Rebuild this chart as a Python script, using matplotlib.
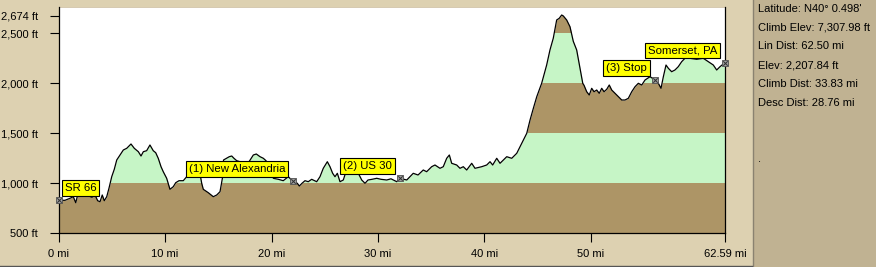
import numpy as np
import matplotlib
matplotlib.use("Agg")
import matplotlib.pyplot as plt
from matplotlib.lines import Line2D
from matplotlib.patches import Rectangle

plt.rcParams['font.family'] = ['Liberation Sans', 'DejaVu Sans']
plt.rcParams['font.size'] = 8

# elevation profile (miles, feet)
dist_mi = [0.00, 0.60, 1.07, 1.38, 1.61, 1.79, 2.20, 2.67, 3.14, 3.42, 3.67, 3.89, 4.10, 4.29,
           4.52, 4.73, 4.99, 5.23, 5.46, 5.77, 6.08, 6.40, 6.80, 7.11, 7.49, 7.74, 7.96, 8.27,
           8.58, 8.89, 9.12, 9.36, 9.62, 9.83, 10.15, 10.46, 10.77, 11.00, 11.31, 11.71, 12.03,
           12.50, 12.97, 13.19, 13.44, 13.59, 14.06, 14.53, 14.85, 15.16, 15.41, 15.49, 16.03,
           16.26, 16.47, 16.73, 17.23, 17.79, 18.29, 18.57, 18.92, 19.23, 19.48, 19.86, 20.17,
           20.64, 21.10, 21.57, 21.89, 22.04, 22.42, 22.61, 22.86, 23.14, 23.45, 23.77, 24.24,
           24.55, 24.86, 25.24, 25.49, 25.74, 25.96, 26.18, 26.43, 26.74, 26.99, 27.21, 27.56,
           27.84, 28.15, 28.47, 28.78, 29.06, 29.44, 29.88, 30.28, 30.82, 31.22, 31.76, 32.07,
           32.70, 33.00, 33.31, 33.76, 34.25, 34.57, 35.04, 35.35, 35.82, 36.13, 36.45, 36.70,
           36.92, 37.39, 37.70, 38.01, 38.33, 38.80, 39.11, 39.74, 40.21, 40.52, 40.77, 41.15,
           41.46, 41.77, 42.09, 42.56, 43.03, 43.50, 43.97, 44.28, 44.59, 44.91, 45.37, 45.84,
           46.15, 46.46, 46.78, 47.02, 47.25, 47.40, 47.72, 48.03, 48.34, 48.66, 48.97, 49.23,
           49.35, 49.60, 49.84, 50.07, 50.29, 50.54, 50.78, 51.01, 51.23, 51.48, 51.72, 51.95,
           52.26, 52.57, 52.89, 53.20, 53.51, 53.83, 54.14, 54.45, 54.77, 55.08, 55.55, 56.02,
           56.33, 56.58, 56.80, 57.05, 57.27, 57.58, 57.89, 58.20, 58.52, 58.83, 59.30, 59.93,
           60.55, 61.02, 61.49, 61.81, 62.12, 62.59]
elev_ft = [830, 830, 850, 866, 806, 883, 870, 880, 860, 883, 826, 816, 883, 826,
           866, 950, 1066, 1140, 1233, 1283, 1333, 1350, 1393, 1350, 1316, 1273, 1316, 1326,
           1383, 1326, 1306, 1250, 1166, 1116, 1050, 940, 966, 1006, 1026, 1026, 1066,
           1140, 1200, 1150, 1000, 940, 906, 866, 883, 916, 1066, 1233, 1266,
           1273, 1250, 1226, 1210, 1200, 1283, 1293, 1266, 1250, 1226, 1150, 1050,
           1040, 1026, 1066, 1033, 1023, 1000, 973, 1000, 1026, 1016, 1040, 1016,
           1066, 1150, 1216, 1166, 1100, 1066, 1100, 1016, 1033, 1116, 1200, 1190,
           1150, 1100, 1033, 1000, 1033, 1040, 1050, 1040, 1033, 1045, 1016, 1050,
           1033, 1066, 1100, 1083, 1133, 1116, 1166, 1183, 1150, 1166, 1250, 1283,
           1200, 1183, 1150, 1166, 1133, 1200, 1150, 1166, 1183, 1216, 1183, 1250,
           1200, 1233, 1266, 1250, 1300, 1400, 1500, 1633, 1750, 1866, 2000, 2183,
           2333, 2450, 2633, 2650, 2683, 2674, 2633, 2566, 2420, 2333, 2150, 2000,
           1980, 1916, 1883, 1950, 1916, 1933, 1900, 1950, 1916, 1940, 1983, 1933,
           1900, 1866, 1833, 1833, 1850, 1916, 1966, 2000, 1983, 2033, 2066, 2033,
           2000, 1950, 2066, 2183, 2150, 2116, 2133, 2166, 2216, 2250, 2250, 2240,
           2250, 2216, 2183, 2133, 2166, 2208]

# waypoints
wp_names = ['SR 66', '(1) New Alexandria', '(2) US 30', '(3) Stop', 'Somerset, PA']
wp_mi = [0.00, 22.04, 32.07, 56.02, 62.59]
wp_ft = [830, 1023, 1050, 2033, 2208]

y_ticks = [500, 1000, 1500, 2000, 2500, 2674]
x_ticks = [0, 10, 20, 30, 40, 50, 62.59]

info_lines = ["Latitude: N40\u00b0 0.498'", 'Climb Elev: 7,307.98 ft', 'Lin Dist: 62.50 mi',
              'Elev: 2,207.84 ft', 'Climb Dist: 33.83 mi', 'Desc Dist: 28.76 mi']

W, H = 876, 267
fig = plt.figure(figsize=(W / 100, H / 100), dpi=100)
fig.patch.set_facecolor('#DDD1B1')

# right info panel
fig.add_artist(Rectangle((754 / W, 0), 1 - 754 / W, 1, transform=fig.transFigure,
                         facecolor='#C0B292', edgecolor='none'))
fig.add_artist(Line2D([752.5 / W, 752.5 / W], [0, 1], color='#8a8270', lw=1))
fig.add_artist(Line2D([0, 752 / W], [1.5 / H, 1.5 / H], color='#555555', lw=1))
for i, s in enumerate(info_lines):
    fig.text(758 / W, 1 - (8.5 + 18.9 * i) / H, s, ha='left', va='center', fontsize=8)
fig.text(758 / W, 1 - 159 / H, '.', ha='left', va='center', fontsize=8)

ax = fig.add_axes([58.6 / W, 33.7 / H, (725 - 58.6) / W, (233.3 - 7) / H])
ax.set_facecolor('white')
x = np.array(dist_mi)
y = np.array(elev_ft)
ymax = 2763

# elevation bands, then white above the profile
band_cols = ['#AD9566', '#C6F5C6', '#AD9566', '#C6F5C6', '#AD9566']
for lo, c in zip([500, 1000, 1500, 2000, 2500], band_cols):
    ax.axhspan(lo, lo + 500, color=c, lw=0, zorder=1)
ax.fill_between(x, y, ymax, color='white', lw=0, zorder=2)
ax.plot(x, y, color='black', lw=0.9, zorder=3)

ax.set_xlim(0, 62.59)
ax.set_ylim(500, ymax)

# waypoint markers and labels
ax.scatter(wp_mi, wp_ft, marker='s', s=22, facecolor='#a0a0a0', edgecolor='#505050',
           lw=0.6, zorder=5, clip_on=False)
ax.scatter(wp_mi, wp_ft, marker='x', s=10, color='#303030', lw=0.7, zorder=6, clip_on=False)
box = dict(boxstyle='square,pad=0.25', facecolor='#FFFF00', edgecolor='black', lw=0.8)
for i, (name, xm, ym) in enumerate(zip(wp_names, wp_mi, wp_ft)):
    if i == 0:
        off, ha = (6, 7), 'left'
    else:
        off, ha = (-8, 7), 'right'
    ax.annotate(name, (xm, ym), xytext=off, textcoords='offset pixels', ha=ha, va='bottom',
                fontsize=8.2, bbox=box, zorder=7, annotation_clip=False)

ax.set_yticks(y_ticks)
ax.set_yticklabels([f'{v:,} ft' for v in y_ticks])
ax.set_xticks(x_ticks)
ax.set_xticklabels([f'{v:g} mi' for v in x_ticks])
ax.tick_params(axis='both', direction='out', length=6.5, width=0.8, colors='black',
               labelsize=8)
ax.tick_params(axis='y', pad=8.5)
ax.tick_params(axis='x', pad=5)
ax.spines['top'].set_visible(False)
for s in ['left', 'bottom', 'right']:
    ax.spines[s].set_linewidth(0.9)
    ax.spines[s].set_zorder(4)

fig.savefig('out.png', dpi=100, facecolor=fig.get_facecolor())
